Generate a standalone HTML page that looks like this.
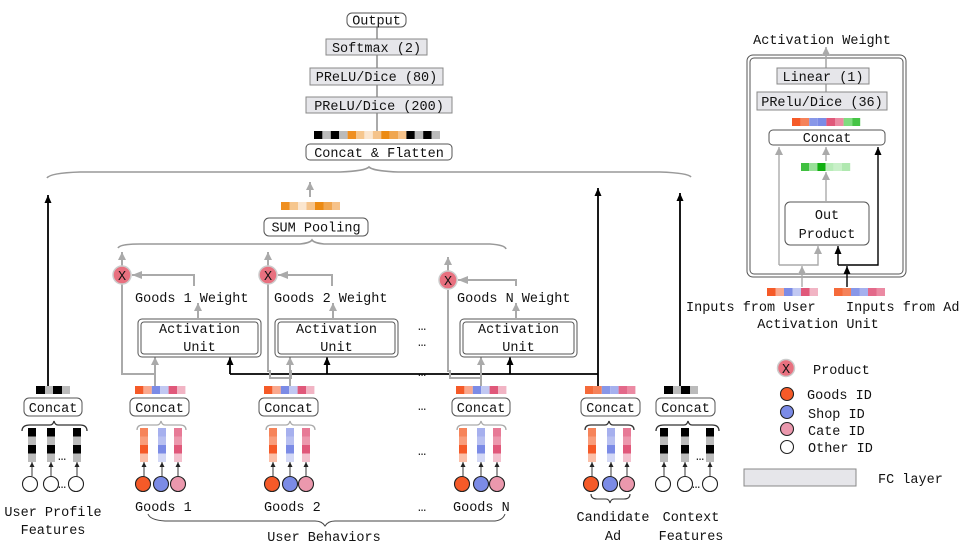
<!DOCTYPE html>
<html><head><meta charset="utf-8"><style>
body{margin:0;background:#fff}
svg{display:block}
text{font-family:"Liberation Mono","DejaVu Sans Mono",monospace;font-size:13.5px;fill:#111}
</style></head><body>
<svg width="969" height="547" viewBox="0 0 969 547" xmlns="http://www.w3.org/2000/svg">
<defs>
<marker id="ag" markerWidth="8" markerHeight="8" refX="8" refY="4" orient="auto" markerUnits="userSpaceOnUse" viewBox="0 0 8 8"><path d="M0,0 L8,4 L0,8z" fill="#aaa"/></marker>
<marker id="ab" markerWidth="8" markerHeight="7" refX="8" refY="3.5" orient="auto" markerUnits="userSpaceOnUse" viewBox="0 0 8 7"><path d="M0,0 L8,3.5 L0,7z" fill="#000"/></marker>
<marker id="as" markerWidth="5" markerHeight="5" refX="5" refY="2.5" orient="auto" markerUnits="userSpaceOnUse" viewBox="0 0 5 5"><path d="M0,0 L5,2.5 L0,5z" fill="#222"/></marker>
<marker id="agl" markerWidth="10" markerHeight="8" refX="10" refY="4" orient="auto" markerUnits="userSpaceOnUse" viewBox="0 0 10 8"><path d="M0,0 L10,4 L0,8z" fill="#aaa"/></marker>
</defs>

<g stroke="#aaa" stroke-width="2" fill="none">
<line x1="377" y1="27" x2="377" y2="131"/>
</g>
<rect x="347" y="13" width="59" height="14" rx="5" fill="#fff" stroke="#555"/>
<text x="376.5" y="24.5" text-anchor="middle">Output</text>
<rect x="326" y="39" width="101" height="16" fill="#e6e6ea" stroke="#888"/>
<text x="376.5" y="52" text-anchor="middle">Softmax (2)</text>
<rect x="310" y="68" width="133" height="17" fill="#e6e6ea" stroke="#888"/>
<text x="376.5" y="81" text-anchor="middle">PReLU/Dice (80)</text>
<rect x="306" y="97" width="146" height="16" fill="#e6e6ea" stroke="#888"/>
<text x="379" y="110" text-anchor="middle">PReLU/Dice (200)</text>
<g>
<rect x="314" y="131" width="8.4" height="8" fill="#000"/><rect x="322.4" y="131" width="8.4" height="8" fill="#bbb"/><rect x="330.8" y="131" width="8.4" height="8" fill="#000"/><rect x="339.2" y="131" width="8.4" height="8" fill="#bbb"/><rect x="347.6" y="131" width="8.4" height="8" fill="#ef8f20"/><rect x="356" y="131" width="8.4" height="8" fill="#f6c68d"/><rect x="364.4" y="131" width="8.4" height="8" fill="#fbe6cf"/><rect x="372.8" y="131" width="8.4" height="8" fill="#f5c38a"/><rect x="381.2" y="131" width="8.4" height="8" fill="#ec8a12"/><rect x="389.6" y="131" width="8.4" height="8" fill="#f0a650"/><rect x="398" y="131" width="8.4" height="8" fill="#f6c28a"/><rect x="406.4" y="131" width="8.4" height="8" fill="#000"/><rect x="414.8" y="131" width="8.4" height="8" fill="#bbb"/><rect x="423.2" y="131" width="8.4" height="8" fill="#000"/><rect x="431.6" y="131" width="8.4" height="8" fill="#bbb"/>
</g>
<rect x="306" y="144" width="146" height="16" rx="4" fill="#fff" stroke="#555"/>
<text x="379" y="157" text-anchor="middle">Concat &amp; Flatten</text>

<path d="M47,178 Q50,173 80,172 L340,172 Q365,171 369,167 Q373,171 398,172 L660,172 Q688,173 691,177" fill="none" stroke="#999" stroke-width="1.6"/>

<line x1="310" y1="197" x2="310" y2="182" stroke="#aaa" stroke-width="2" marker-end="url(#ag)"/>
<g>
<rect x="281" y="202" width="8.5" height="8" fill="#ef8f20"/><rect x="289.5" y="202" width="8.5" height="8" fill="#f6c68d"/><rect x="298" y="202" width="8.5" height="8" fill="#fbe6cf"/><rect x="306.5" y="202" width="8.5" height="8" fill="#f5c38a"/><rect x="315" y="202" width="8.5" height="8" fill="#ec8a12"/><rect x="323.5" y="202" width="8.5" height="8" fill="#f0a650"/><rect x="332" y="202" width="8" height="8" fill="#f6c28a"/>
</g>
<rect x="264" y="218" width="104" height="18" rx="5" fill="#fff" stroke="#555"/>
<text x="316" y="231.5" text-anchor="middle">SUM Pooling</text>
<path d="M118,248 Q120,244 140,244 L300,244 Q310,243 312,240 Q314,243 324,244 L490,244 Q505,245 506,249" fill="none" stroke="#999" stroke-width="1.6"/>

<g stroke="#000" stroke-width="1.8" fill="none">
<line x1="48" y1="388" x2="48" y2="195" marker-end="url(#ab)"/>
<line x1="598" y1="386" x2="598" y2="188" marker-end="url(#ab)"/>
<line x1="680" y1="388" x2="680" y2="193" marker-end="url(#ab)"/>
<polyline points="230,374 598,374"/>
<line x1="230" y1="374" x2="230" y2="357" marker-end="url(#ab)"/>
<line x1="327" y1="374" x2="327" y2="357" marker-end="url(#ab)"/>
<line x1="510" y1="374" x2="510" y2="357" marker-end="url(#ab)"/>
</g>

<g stroke="#aaa" stroke-width="2" fill="none">
<line x1="122" y1="266" x2="122" y2="252" marker-end="url(#ag)"/>
<polyline points="122,284 122,374 155,374"/>
<line x1="155" y1="386" x2="155" y2="357" marker-end="url(#ag)"/>
<line x1="198" y1="318" x2="198" y2="303" marker-end="url(#ag)"/>
<polyline points="194,286 194,275 132,275" marker-end="url(#agl)"/>
<line x1="268" y1="266" x2="268" y2="252" marker-end="url(#ag)"/>
<polyline points="268,284 268,371 270,371 270,378 291,378 291,371 290,371"/>
<line x1="290" y1="386" x2="290" y2="357" marker-end="url(#ag)"/>
<line x1="333" y1="318" x2="333" y2="303" marker-end="url(#ag)"/>
<polyline points="332,286 332,275 278,275" marker-end="url(#agl)"/>
<line x1="448" y1="271" x2="448" y2="257" marker-end="url(#ag)"/>
<polyline points="448,290 448,371 450,371 450,378 481,378 481,371"/>
<line x1="481" y1="386" x2="481" y2="357" marker-end="url(#ag)"/>
<line x1="516" y1="318" x2="516" y2="303" marker-end="url(#ag)"/>
<polyline points="516,286 516,280 458,280" marker-end="url(#agl)"/>
</g>

<g>
<circle cx="122" cy="275" r="9" fill="#e8707f" stroke="#ccc" stroke-width="1.5"/><text x="122" y="280" text-anchor="middle" font-size="13">X</text>
<circle cx="268" cy="275" r="9" fill="#e8707f" stroke="#ccc" stroke-width="1.5"/><text x="268" y="280" text-anchor="middle" font-size="13">X</text>
<circle cx="448" cy="280" r="9" fill="#e8707f" stroke="#ccc" stroke-width="1.5"/><text x="448" y="285" text-anchor="middle" font-size="13">X</text>
</g>
<text x="135" y="302">Goods 1 Weight</text>
<text x="274" y="302">Goods 2 Weight</text>
<text x="457" y="302">Goods N Weight</text>

<g fill="#fff" stroke="#555">
<rect x="138" y="319" width="123" height="38" rx="4"/><rect x="141" y="322" width="117" height="32" rx="3"/>
<rect x="275" y="319" width="123" height="38" rx="4"/><rect x="278" y="322" width="117" height="32" rx="3"/>
<rect x="460" y="319" width="117" height="38" rx="4"/><rect x="463" y="322" width="111" height="32" rx="3"/>
</g>
<text x="199.5" y="333" text-anchor="middle">Activation</text><text x="199.5" y="351" text-anchor="middle">Unit</text>
<text x="336.5" y="333" text-anchor="middle">Activation</text><text x="336.5" y="351" text-anchor="middle">Unit</text>
<text x="518.5" y="333" text-anchor="middle">Activation</text><text x="518.5" y="351" text-anchor="middle">Unit</text>

<g font-size="11">
<text x="418" y="330">…</text><text x="418" y="346">…</text><text x="418" y="376">…</text><text x="418" y="410">…</text><text x="418" y="455">…</text><text x="418" y="511">…</text>
</g>

<g>
<rect x="36" y="386" width="9" height="8" fill="#000"/><rect x="45" y="386" width="8" height="8" fill="#bbb"/><rect x="53" y="386" width="9" height="8" fill="#000"/><rect x="62" y="386" width="8" height="8" fill="#bbb"/>
<rect x="664" y="386" width="9" height="8" fill="#000"/><rect x="673" y="386" width="8" height="8" fill="#bbb"/><rect x="681" y="386" width="9" height="8" fill="#000"/><rect x="690" y="386" width="8" height="8" fill="#bbb"/>
</g>
<g>
<g transform="translate(135,386)"><rect width="8.4" height="8" fill="#f55a28"/><rect x="8.4" width="8.4" height="8" fill="#f9a88e"/><rect x="16.8" width="8.4" height="8" fill="#7b8be6"/><rect x="25.2" width="8.4" height="8" fill="#c1c8f2"/><rect x="33.6" width="8.4" height="8" fill="#e0587a"/><rect x="42" width="8.4" height="8" fill="#f1b4c4"/></g>
<g transform="translate(264,386)"><rect width="8.4" height="8" fill="#f55a28"/><rect x="8.4" width="8.4" height="8" fill="#f9a88e"/><rect x="16.8" width="8.4" height="8" fill="#7b8be6"/><rect x="25.2" width="8.4" height="8" fill="#c1c8f2"/><rect x="33.6" width="8.4" height="8" fill="#e0587a"/><rect x="42" width="8.4" height="8" fill="#f1b4c4"/></g>
<g transform="translate(456,386)"><rect width="8.4" height="8" fill="#f55a28"/><rect x="8.4" width="8.4" height="8" fill="#f9a88e"/><rect x="16.8" width="8.4" height="8" fill="#7b8be6"/><rect x="25.2" width="8.4" height="8" fill="#c1c8f2"/><rect x="33.6" width="8.4" height="8" fill="#e0587a"/><rect x="42" width="8.4" height="8" fill="#f1b4c4"/></g>
<g transform="translate(585,386)"><rect width="8.4" height="8" fill="#f56a3a"/><rect x="8.4" width="8.4" height="8" fill="#f5825a"/><rect x="16.8" width="8.4" height="8" fill="#8897e8"/><rect x="25.2" width="8.4" height="8" fill="#a5b0ee"/><rect x="33.6" width="8.4" height="8" fill="#e3698a"/><rect x="42" width="8.4" height="8" fill="#eb8aa3"/></g>
</g>

<g fill="#fff" stroke="#555">
<rect x="24" y="398" width="58" height="18" rx="5"/>
<rect x="130" y="398" width="59" height="18" rx="5"/>
<rect x="259" y="398" width="59" height="18" rx="5"/>
<rect x="452" y="398" width="58" height="18" rx="5"/>
<rect x="581" y="398" width="59" height="18" rx="5"/>
<rect x="656" y="398" width="59" height="18" rx="5"/>
</g>
<text x="53" y="412" text-anchor="middle">Concat</text>
<text x="159.5" y="412" text-anchor="middle">Concat</text>
<text x="288.5" y="412" text-anchor="middle">Concat</text>
<text x="481" y="412" text-anchor="middle">Concat</text>
<text x="610.5" y="412" text-anchor="middle">Concat</text>
<text x="685.5" y="412" text-anchor="middle">Concat</text>

<g fill="none" stroke="#333" stroke-width="1.3">
<path d="M22,431 Q22,425 30,425 L50,425 Q53,425 54,421 Q55,425 58,425 L80,425 Q87,425 87,431"/>
</g>
<g fill="none" stroke="#aaa" stroke-width="1.3">
<path d="M137,430 Q137,425 143,425 L157,425 Q160,425 161,421 Q162,425 165,425 L180,425 Q186,425 186,430"/>
<path d="M266,430 Q266,425 272,425 L286,425 Q289,425 290,421 Q291,425 294,425 L309,425 Q315,425 315,430"/>
<path d="M457,430 Q457,425 463,425 L477,425 Q480,425 481,421 Q482,425 485,425 L500,425 Q506,425 506,430"/>
</g>
<g fill="none" stroke="#333" stroke-width="1.3">
<path d="M585,430 Q585,425 591,425 L605,425 Q608,425 609,421 Q610,425 613,425 L628,425 Q634,425 634,430"/>
<path d="M656,431 Q656,425 664,425 L684,425 Q687,425 688,421 Q689,425 692,425 L712,425 Q719,425 719,431"/>
</g>

<g>
<g transform="translate(28,428)"><rect width="8" height="8.5" fill="#000"/><rect y="8.5" width="8" height="8.5" fill="#bbb"/><rect y="17" width="8" height="8.5" fill="#000"/><rect y="25.5" width="8" height="8.5" fill="#bbb"/></g>
<g transform="translate(47,428)"><rect width="8" height="8.5" fill="#000"/><rect y="8.5" width="8" height="8.5" fill="#bbb"/><rect y="17" width="8" height="8.5" fill="#000"/><rect y="25.5" width="8" height="8.5" fill="#bbb"/></g>
<g transform="translate(73,428)"><rect width="8" height="8.5" fill="#000"/><rect y="8.5" width="8" height="8.5" fill="#bbb"/><rect y="17" width="8" height="8.5" fill="#000"/><rect y="25.5" width="8" height="8.5" fill="#bbb"/></g>
<g transform="translate(660,428)"><rect width="8" height="8.5" fill="#000"/><rect y="8.5" width="8" height="8.5" fill="#bbb"/><rect y="17" width="8" height="8.5" fill="#000"/><rect y="25.5" width="8" height="8.5" fill="#bbb"/></g>
<g transform="translate(681,428)"><rect width="8" height="8.5" fill="#000"/><rect y="8.5" width="8" height="8.5" fill="#bbb"/><rect y="17" width="8" height="8.5" fill="#000"/><rect y="25.5" width="8" height="8.5" fill="#bbb"/></g>
<g transform="translate(706,428)"><rect width="8" height="8.5" fill="#000"/><rect y="8.5" width="8" height="8.5" fill="#bbb"/><rect y="17" width="8" height="8.5" fill="#000"/><rect y="25.5" width="8" height="8.5" fill="#bbb"/></g>
</g>
<text x="58" y="460" font-size="10">…</text>
<text x="696" y="460" font-size="10">…</text>

<g>
<g transform="translate(140,428)"><rect width="8" height="8.5" fill="#f6845a"/><rect y="8.5" width="8" height="8.5" fill="#f99d7b"/><rect y="17" width="8" height="8.5" fill="#f55a28"/><rect y="25.5" width="8" height="8.5" fill="#fbbfa8"/></g>
<g transform="translate(158,428)"><rect width="8" height="8.5" fill="#a6b0ee"/><rect y="8.5" width="8" height="8.5" fill="#b8c0f1"/><rect y="17" width="8" height="8.5" fill="#7b8be6"/><rect y="25.5" width="8" height="8.5" fill="#d3d8f6"/></g>
<g transform="translate(174,428)"><rect width="8" height="8.5" fill="#e77a96"/><rect y="8.5" width="8" height="8.5" fill="#ec98ad"/><rect y="17" width="8" height="8.5" fill="#e0587a"/><rect y="25.5" width="8" height="8.5" fill="#f3c1ce"/></g>
<g transform="translate(269,428)"><rect width="8" height="8.5" fill="#f6845a"/><rect y="8.5" width="8" height="8.5" fill="#f99d7b"/><rect y="17" width="8" height="8.5" fill="#f55a28"/><rect y="25.5" width="8" height="8.5" fill="#fbbfa8"/></g>
<g transform="translate(286,428)"><rect width="8" height="8.5" fill="#a6b0ee"/><rect y="8.5" width="8" height="8.5" fill="#b8c0f1"/><rect y="17" width="8" height="8.5" fill="#7b8be6"/><rect y="25.5" width="8" height="8.5" fill="#d3d8f6"/></g>
<g transform="translate(302,428)"><rect width="8" height="8.5" fill="#e77a96"/><rect y="8.5" width="8" height="8.5" fill="#ec98ad"/><rect y="17" width="8" height="8.5" fill="#e0587a"/><rect y="25.5" width="8" height="8.5" fill="#f3c1ce"/></g>
<g transform="translate(459,428)"><rect width="8" height="8.5" fill="#f6845a"/><rect y="8.5" width="8" height="8.5" fill="#f99d7b"/><rect y="17" width="8" height="8.5" fill="#f55a28"/><rect y="25.5" width="8" height="8.5" fill="#fbbfa8"/></g>
<g transform="translate(477,428)"><rect width="8" height="8.5" fill="#a6b0ee"/><rect y="8.5" width="8" height="8.5" fill="#b8c0f1"/><rect y="17" width="8" height="8.5" fill="#7b8be6"/><rect y="25.5" width="8" height="8.5" fill="#d3d8f6"/></g>
<g transform="translate(493,428)"><rect width="8" height="8.5" fill="#e77a96"/><rect y="8.5" width="8" height="8.5" fill="#ec98ad"/><rect y="17" width="8" height="8.5" fill="#e0587a"/><rect y="25.5" width="8" height="8.5" fill="#f3c1ce"/></g>
<g transform="translate(588,428)"><rect width="8" height="8.5" fill="#f6845a"/><rect y="8.5" width="8" height="8.5" fill="#f99d7b"/><rect y="17" width="8" height="8.5" fill="#f55a28"/><rect y="25.5" width="8" height="8.5" fill="#fbbfa8"/></g>
<g transform="translate(607,428)"><rect width="8" height="8.5" fill="#a6b0ee"/><rect y="8.5" width="8" height="8.5" fill="#b8c0f1"/><rect y="17" width="8" height="8.5" fill="#7b8be6"/><rect y="25.5" width="8" height="8.5" fill="#d3d8f6"/></g>
<g transform="translate(623,428)"><rect width="8" height="8.5" fill="#e77a96"/><rect y="8.5" width="8" height="8.5" fill="#ec98ad"/><rect y="17" width="8" height="8.5" fill="#e0587a"/><rect y="25.5" width="8" height="8.5" fill="#f3c1ce"/></g>
</g>

<g stroke="#222" stroke-width="0.9">
<line x1="32" y1="476" x2="32" y2="462" marker-end="url(#as)"/><line x1="51" y1="476" x2="51" y2="462" marker-end="url(#as)"/><line x1="77" y1="476" x2="77" y2="462" marker-end="url(#as)"/>
<line x1="144" y1="476" x2="144" y2="462" marker-end="url(#as)"/><line x1="162" y1="476" x2="162" y2="462" marker-end="url(#as)"/><line x1="178" y1="476" x2="178" y2="462" marker-end="url(#as)"/>
<line x1="273" y1="476" x2="273" y2="462" marker-end="url(#as)"/><line x1="290" y1="476" x2="290" y2="462" marker-end="url(#as)"/><line x1="306" y1="476" x2="306" y2="462" marker-end="url(#as)"/>
<line x1="463" y1="476" x2="463" y2="462" marker-end="url(#as)"/><line x1="481" y1="476" x2="481" y2="462" marker-end="url(#as)"/><line x1="497" y1="476" x2="497" y2="462" marker-end="url(#as)"/>
<line x1="592" y1="476" x2="592" y2="462" marker-end="url(#as)"/><line x1="611" y1="476" x2="611" y2="462" marker-end="url(#as)"/><line x1="627" y1="476" x2="627" y2="462" marker-end="url(#as)"/>
<line x1="664" y1="476" x2="664" y2="462" marker-end="url(#as)"/><line x1="685" y1="476" x2="685" y2="462" marker-end="url(#as)"/><line x1="710" y1="476" x2="710" y2="462" marker-end="url(#as)"/>
</g>

<g stroke="#222" stroke-width="1.1">
<circle cx="30" cy="484" r="7.5" fill="#fff"/><circle cx="51" cy="484" r="7.5" fill="#fff"/><circle cx="76" cy="484" r="7.5" fill="#fff"/>
<circle cx="663" cy="484" r="7.5" fill="#fff"/><circle cx="685" cy="484" r="7.5" fill="#fff"/><circle cx="710" cy="484" r="7.5" fill="#fff"/>
<circle cx="143" cy="484" r="7.5" fill="#f55a28"/><circle cx="161" cy="484" r="7.5" fill="#7b8be6"/><circle cx="178" cy="484" r="7.5" fill="#eb98ad"/>
<circle cx="272" cy="484" r="7.5" fill="#f55a28"/><circle cx="290" cy="484" r="7.5" fill="#7b8be6"/><circle cx="306" cy="484" r="7.5" fill="#eb98ad"/>
<circle cx="462" cy="484" r="7.5" fill="#f55a28"/><circle cx="481" cy="484" r="7.5" fill="#7b8be6"/><circle cx="497" cy="484" r="7.5" fill="#eb98ad"/>
<circle cx="591" cy="484" r="7.5" fill="#f55a28"/><circle cx="610" cy="484" r="7.5" fill="#7b8be6"/><circle cx="627" cy="484" r="7.5" fill="#eb98ad"/>
</g>
<text x="58" y="488" font-size="10">…</text>
<text x="692" y="488" font-size="10">…</text>

<text x="135" y="511">Goods 1</text>
<text x="264" y="511">Goods 2</text>
<text x="453" y="511">Goods N</text>
<text x="53" y="516" text-anchor="middle">User Profile</text>
<text x="53" y="534" text-anchor="middle">Features</text>
<path d="M148,514 Q150,520 165,521 L315,521 Q322,521 325,526 Q328,521 335,521 L495,521 Q503,520 505,514" fill="none" stroke="#444" stroke-width="1"/>
<text x="324" y="541" text-anchor="middle">User Behaviors</text>
<path d="M591,494 Q591,499 597,499 L606,499 Q609,499 610,503 Q611,499 614,499 L624,499 Q630,499 630,494" fill="none" stroke="#333" stroke-width="1.1"/>
<text x="613" y="521" text-anchor="middle">Candidate</text>
<text x="613" y="540" text-anchor="middle">Ad</text>
<text x="691" y="521" text-anchor="middle">Context</text>
<text x="691" y="540" text-anchor="middle">Features</text>

<text x="822" y="44" text-anchor="middle">Activation Weight</text>
<rect x="747" y="55" width="159" height="222" rx="6" fill="#fff" stroke="#555"/>
<rect x="750" y="58" width="153" height="216" rx="4" fill="none" stroke="#555"/>
<line x1="826" y1="110" x2="826" y2="47" stroke="#aaa" stroke-width="1.6" marker-end="url(#ag)"/>
<rect x="777" y="68" width="92" height="16" fill="#e6e6ea" stroke="#888"/>
<text x="823" y="81" text-anchor="middle">Linear (1)</text>
<rect x="757" y="92" width="130" height="18" fill="#e6e6ea" stroke="#888"/>
<text x="822" y="106" text-anchor="middle">PRelu/Dice (36)</text>
<g transform="translate(792,118)"><rect width="8.6" height="8" fill="#f55a28"/><rect x="8.6" width="8.6" height="8" fill="#f5825a"/><rect x="17.2" width="8.6" height="8" fill="#8897e8"/><rect x="25.8" width="8.6" height="8" fill="#7b8be6"/><rect x="34.4" width="8.6" height="8" fill="#e0587a"/><rect x="43" width="8.6" height="8" fill="#eb8aa3"/><rect x="51.6" width="8.6" height="8" fill="#7fdc7f"/><rect x="60.2" width="8" height="8" fill="#45c445"/></g>
<rect x="769" y="130" width="116" height="15" rx="4" fill="#fff" stroke="#555"/>
<text x="827" y="142" text-anchor="middle">Concat</text>
<g transform="translate(801,163)"><rect width="8.2" height="8" fill="#40c040"/><rect x="8.2" width="8.2" height="8" fill="#98e098"/><rect x="16.4" width="8.2" height="8" fill="#10b010"/><rect x="24.6" width="8.2" height="8" fill="#b8ecb8"/><rect x="32.8" width="8.2" height="8" fill="#c8f0c8"/><rect x="41" width="8.2" height="8" fill="#b0e8b0"/></g>
<rect x="785" y="202" width="84" height="43" rx="5" fill="#fff" stroke="#555"/>
<text x="827" y="219" text-anchor="middle">Out</text>
<text x="827" y="238" text-anchor="middle">Product</text>
<g stroke="#aaa" stroke-width="1.4" fill="none">
<line x1="826" y1="161" x2="826" y2="147" marker-end="url(#ag)"/>
<line x1="826" y1="202" x2="826" y2="172" marker-end="url(#ag)"/>
<polyline points="779,265 779,147" marker-end="url(#ag)"/>
<polyline points="779,265 818,265 818,246" marker-end="url(#ag)"/>
<line x1="802" y1="287" x2="802" y2="266" marker-end="url(#ag)"/>
</g>
<g stroke="#000" stroke-width="1.4" fill="none">
<polyline points="838,265 878,265 878,147" marker-end="url(#ab)"/>
<line x1="838" y1="265" x2="838" y2="246" marker-end="url(#ab)"/>
<line x1="847" y1="287" x2="847" y2="266" marker-end="url(#ab)"/>
</g>
<g transform="translate(767,288)"><rect width="8.5" height="8" fill="#f55a28"/><rect x="8.5" width="8.5" height="8" fill="#f9a88e"/><rect x="17" width="8.5" height="8" fill="#7b8be6"/><rect x="25.5" width="8.5" height="8" fill="#c1c8f2"/><rect x="34" width="8.5" height="8" fill="#e0587a"/><rect x="42.5" width="8.5" height="8" fill="#f1b4c4"/></g>
<g transform="translate(834,288)"><rect width="8.5" height="8" fill="#f56a3a"/><rect x="8.5" width="8.5" height="8" fill="#f5825a"/><rect x="17" width="8.5" height="8" fill="#8897e8"/><rect x="25.5" width="8.5" height="8" fill="#a5b0ee"/><rect x="34" width="8.5" height="8" fill="#e3698a"/><rect x="42.5" width="8.5" height="8" fill="#eb8aa3"/></g>
<text x="686" y="311">Inputs from User</text>
<text x="846" y="311">Inputs from Ad</text>
<text x="818" y="328" text-anchor="middle">Activation Unit</text>

<circle cx="786" cy="368" r="8.5" fill="#e8707f" stroke="#ccc" stroke-width="1.5"/><text x="786" y="373" text-anchor="middle" font-size="12">X</text>
<text x="813" y="374">Product</text>
<g stroke="#222" stroke-width="1.1">
<circle cx="787" cy="394" r="6.5" fill="#f55a28"/>
<circle cx="787" cy="412" r="6.5" fill="#7b8be6"/>
<circle cx="787" cy="429" r="6.5" fill="#eb98ad"/>
<circle cx="787" cy="447" r="6.5" fill="#fff"/>
</g>
<text x="807" y="399">Goods ID</text>
<text x="808" y="418">Shop ID</text>
<text x="808" y="435">Cate ID</text>
<text x="808" y="452">Other ID</text>
<rect x="744" y="469" width="112" height="17" fill="#e6e6ea" stroke="#888"/>
<text x="878" y="483">FC layer</text>
</svg>
</body></html>
